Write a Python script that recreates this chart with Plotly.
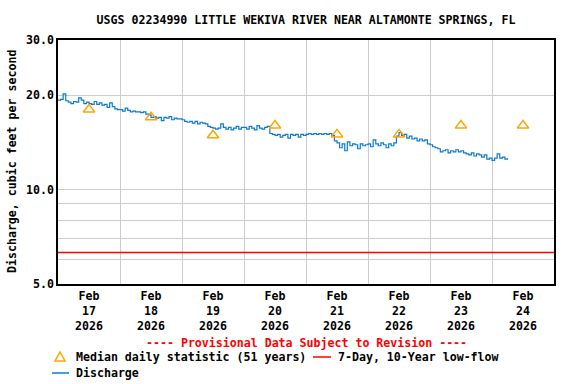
import math
import pandas as pd
import plotly.graph_objects as go

title_text = "USGS 02234990 LITTLE WEKIVA RIVER NEAR ALTAMONTE SPRINGS, FL"

# Hourly discharge readings (cubic feet per second)
feb17 = [19.3, 19.4, 20.2, 19.2, 19.0, 18.8, 19.1, 19.0, 19.6, 19.3, 18.8, 19.0,
         18.8, 18.7, 19.1, 18.7, 18.9, 18.6, 18.7, 18.3, 18.9, 18.4, 18.1, 18.0]
feb18 = [18.0, 17.8, 18.2, 17.9, 17.7, 17.8, 17.7, 17.7, 17.6, 17.7, 17.4, 17.3,
         17.0, 17.1, 16.9, 17.0, 16.6, 17.0, 16.9, 17.1, 16.7, 16.9, 16.8, 16.8]
feb19 = [16.7, 16.5, 16.4, 16.5, 16.3, 16.5, 16.2, 16.4, 16.3, 16.2, 15.9, 15.8,
         15.7, 15.6, 15.7, 16.2, 15.8, 15.6, 15.8, 15.5, 15.7, 15.9, 15.6, 15.8]
feb20 = [15.8, 15.6, 15.9, 15.7, 15.5, 16.0, 15.7, 15.6, 15.8, 15.9, 15.1, 15.0,
         14.9, 15.0, 14.7, 14.9, 15.0, 14.6, 15.0, 14.9, 15.0, 14.7, 15.0, 14.9]
feb21 = [15.0, 15.1, 15.0, 15.1, 15.0, 15.1, 15.0, 15.1, 15.0, 15.1, 14.9, 14.3,
         14.1, 13.6, 14.0, 13.3, 14.2, 13.8, 14.0, 13.9, 13.5, 14.0, 13.8, 13.9]
feb22 = [14.0, 13.7, 14.4, 14.0, 13.8, 14.1, 13.9, 13.6, 14.0, 13.8, 14.1, 14.8,
         15.2, 14.9, 15.0, 14.6, 14.8, 14.5, 14.6, 14.3, 14.5, 14.3, 14.4, 14.0]
feb23 = [13.9, 13.7, 13.6, 13.5, 13.2, 13.3, 13.4, 13.1, 13.3, 13.2, 13.4, 13.2,
         13.3, 13.1, 13.0, 12.9, 13.1, 12.8, 13.0, 12.9, 12.7, 12.9, 12.5, 12.6]
feb24 = [12.4, 12.6, 13.0, 12.6, 12.7, 12.5, 12.6]

discharge = feb17 + feb18 + feb19 + feb20 + feb21 + feb22 + feb23 + feb24
discharge_times = pd.date_range("2026-02-17 00:00", periods=len(discharge), freq="h")

median_dates = ["2026-02-17 12:00", "2026-02-18 12:00", "2026-02-19 12:00", "2026-02-20 12:00",
                "2026-02-21 12:00", "2026-02-22 12:00", "2026-02-23 12:00", "2026-02-24 12:00"]
median_values = [18.0, 17.0, 14.9, 16.0, 15.0, 15.0, 16.0, 16.0]

lowflow_dates = ["2026-02-17 00:00", "2026-02-25 00:00"]
lowflow_values = [6.3, 6.3]

day_tick_labels = ["Feb<br>17<br>2026", "Feb<br>18<br>2026", "Feb<br>19<br>2026", "Feb<br>20<br>2026",
                   "Feb<br>21<br>2026", "Feb<br>22<br>2026", "Feb<br>23<br>2026", "Feb<br>24<br>2026"]
y_tick_values = [5, 6, 7, 8, 9, 10, 20, 30]
y_tick_labels = ["5.0", "", "", "", "", "10.0", "20.0", "30.0"]

FONT = "DejaVu Sans Mono"
FS = 11.6
BLUE = "#0a7bd0"
ORANGE = "#ffa500"
RED = "#ff0000"

W, H = 576, 384
L, R, T, B = 58, 554, 40, 284


def px(x):
    return (x - L) / (R - L)


def py(y):
    return (B - y) / (B - T)


fig = go.Figure()
fig.add_trace(go.Scatter(x=lowflow_dates, y=lowflow_values, mode="lines",
                         line=dict(color=RED, width=1.5), hoverinfo="skip"))
fig.add_trace(go.Scatter(x=discharge_times, y=discharge, mode="lines",
                         line=dict(color=BLUE, width=1.2, shape="hv")))
fig.add_trace(go.Scatter(x=median_dates, y=median_values, mode="markers",
                         marker=dict(symbol="triangle-up-open", size=10, color=ORANGE,
                                     line=dict(color=ORANGE, width=1.5))))

bold = dict(family=FONT, size=FS, color="black", weight="bold")

annotations = [
    dict(text="Discharge, cubic feet per second", textangle=-90, xref="paper", yref="paper",
         x=px(12), y=py(162), showarrow=False, font=bold, xanchor="center", yanchor="middle"),
    dict(text="---- Provisional Data Subject to Revision ----", xref="paper", yref="paper",
         x=px(306), y=py(343), showarrow=False, font=dict(family=FONT, size=FS, color=RED, weight="bold"),
         xanchor="center", yanchor="middle"),
    dict(text="Median daily statistic (51 years)", xref="paper", yref="paper",
         x=px(74), y=py(357), showarrow=False, font=bold, xanchor="left", yanchor="middle"),
    dict(text="7-Day, 10-Year low-flow", xref="paper", yref="paper",
         x=px(336), y=py(357), showarrow=False, font=bold, xanchor="left", yanchor="middle"),
    dict(text="Discharge", xref="paper", yref="paper",
         x=px(74), y=py(373), showarrow=False, font=bold, xanchor="left", yanchor="middle"),
]

shapes = [
    dict(type="path", xref="paper", yref="paper",
         path=f"M {px(55)} {py(361)} L {px(65)} {py(361)} L {px(60)} {py(352)} Z",
         line=dict(color=ORANGE, width=1.5)),
    dict(type="line", xref="paper", yref="paper", x0=px(313), x1=px(331), y0=py(357), y1=py(357),
         line=dict(color=RED, width=1.5)),
    dict(type="line", xref="paper", yref="paper", x0=px(52), x1=px(69), y0=py(373), y1=py(373),
         line=dict(color=BLUE, width=1.5)),
]

fig.update_layout(
    width=W, height=H,
    margin=dict(l=L, r=W - R, t=T, b=H - B),
    paper_bgcolor="white", plot_bgcolor="white",
    showlegend=False,
    font=bold,
    title=dict(text=title_text, x=306 / W, xanchor="center", y=1 - 20 / H, yanchor="middle",
               font=dict(family=FONT, size=FS, color="black", weight="bold")),
    annotations=annotations,
    shapes=shapes,
)

fig.update_xaxes(
    type="date", range=["2026-02-17 00:00", "2026-02-25 00:00"],
    tickmode="array", tickvals=median_dates, ticktext=day_tick_labels,
    showgrid=False, ticks="", zeroline=False,
    minor=dict(dtick=86400000, tick0="2026-02-17 00:00", showgrid=True,
               gridcolor="#cccccc", gridwidth=1, ticks=""),
    showline=True, mirror=True, linecolor="black", linewidth=1.5,
    tickfont=bold,
)
fig.update_yaxes(
    type="log", range=[math.log10(5), math.log10(30)],
    tickmode="array", tickvals=y_tick_values, ticktext=y_tick_labels,
    showgrid=True, gridcolor="#cccccc", gridwidth=1, ticks="", zeroline=False,
    showline=True, mirror=True, linecolor="black", linewidth=1.5,
    tickfont=bold,
)

fig.write_html("out.html", config={"displayModeBar": False},
               post_script="document.body.style.margin='0px';document.body.style.overflow='hidden';")
